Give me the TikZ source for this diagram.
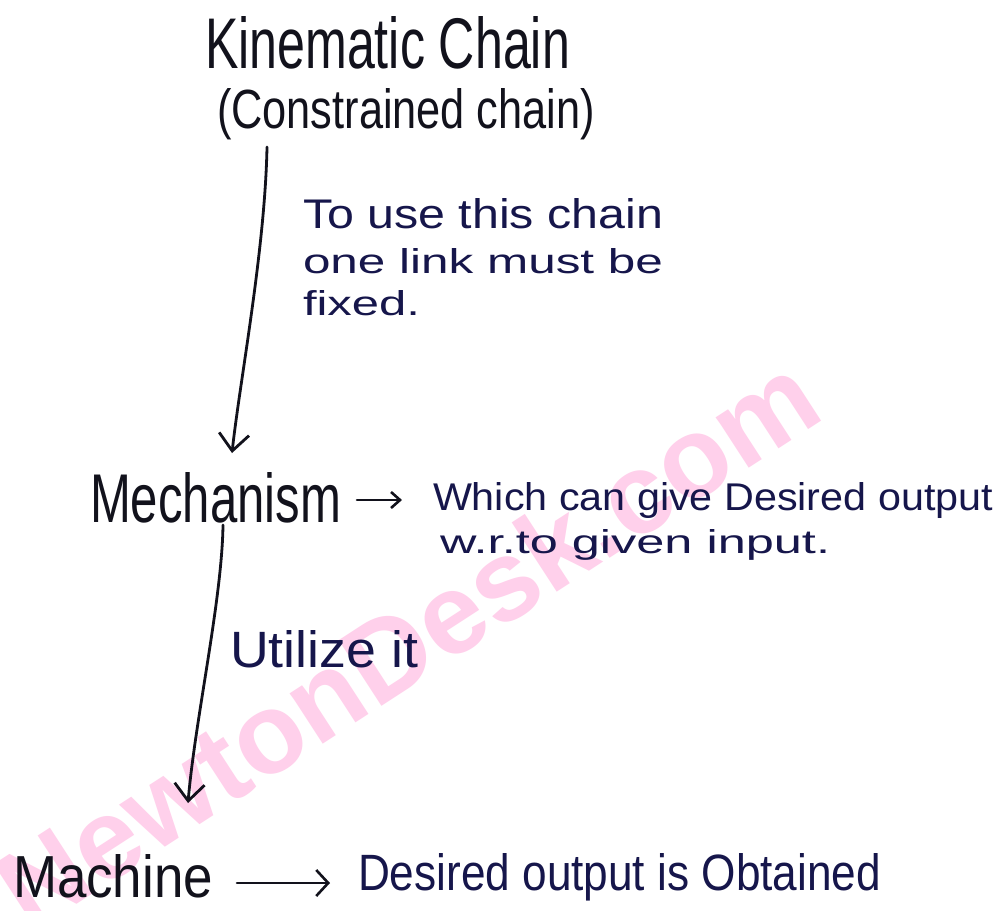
\documentclass[tikz,border=0pt]{standalone}
\usepackage{fontspec}
\setmainfont{Liberation Sans}
\usepackage{graphicx}
\usetikzlibrary{arrows.meta}
\definecolor{ink}{RGB}{18,18,28}
\definecolor{pen}{RGB}{22,22,75}
\definecolor{wm}{RGB}{255,208,235}
\newcommand{\hw}[3]{\resizebox{#1pt}{#2pt}{#3}}
\begin{document}
\begin{tikzpicture}[x=1pt,y=-1pt,
  lbl/.style={anchor=base west, inner sep=0pt, outer sep=0pt},
  head/.style={lbl, text=ink},
  note/.style={lbl, text=pen},
  conn/.style={draw=ink, line width=2.8pt, line cap=round,
    -{Straight Barb[length=17pt,width=30pt]}},
  shortconn/.style={draw=ink, line width=2.6pt, line cap=round,
    -{Straight Barb[length=9pt,width=16pt]}},
  longconn/.style={draw=ink, line width=2.6pt, line cap=round,
    -{Straight Barb[length=12pt,width=26pt]}}
]
\useasboundingbox[fill=white] (0,0) rectangle (1006,910);

% watermark
\node[rotate=33, anchor=base west, text=wm, inner sep=0pt,
  font=\bfseries\fontsize{114}{114}\selectfont] (wmk) at (30,935) {NewtonDesk.com};

% headings
\node[head] (k1) at (205,68) {\hw{365}{52}{Kinematic Chain}};
\node[head] (k2) at (217,128) {\hw{378}{40}{(Constrained chain)}};
\node[head] (mech) at (90,522) {\hw{251}{50}{Mechanism}};
\node[head] (mach) at (13,897) {\hw{200}{43}{Machine}};

% notes
\node[note] (n1) at (303,228) {\hw{360}{30}{To use this chain}};
\node[note] (n2) at (303,273) {\hw{360}{25}{one link must be}};
\node[note] (n3) at (303,315) {\hw{117}{25}{fixed.}};
\node[note] (w1) at (433,510) {\hw{560}{28}{Which can give Desired output}};
\node[note] (w2) at (440,553) {\hw{390}{24}{w.r.to given input.}};
\node[note] (util) at (230,667) {\hw{188}{37}{Utilize it}};
\node[note] (des) at (358,890) {\hw{523}{37}{Desired output is Obtained}};

% connectors
\coordinate (a1s) at (267,147);
\coordinate (a1e) at (232,453);
\coordinate (a2s) at (223,525);
\coordinate (a2e) at (188,803);
\coordinate (m1s) at (357,500);
\coordinate (m1e) at (402,500);
\coordinate (m2s) at (237,883);
\coordinate (m2e) at (330,883);
\draw[conn] (a1s) .. controls (265,250) and (240,380) .. (a1e);
\draw[conn] (a2s) .. controls (222,600) and (195,720) .. (a2e);
\draw[shortconn] (m1s) -- (m1e);
\draw[longconn] (m2s) -- (m2e);
\end{tikzpicture}
\end{document}
